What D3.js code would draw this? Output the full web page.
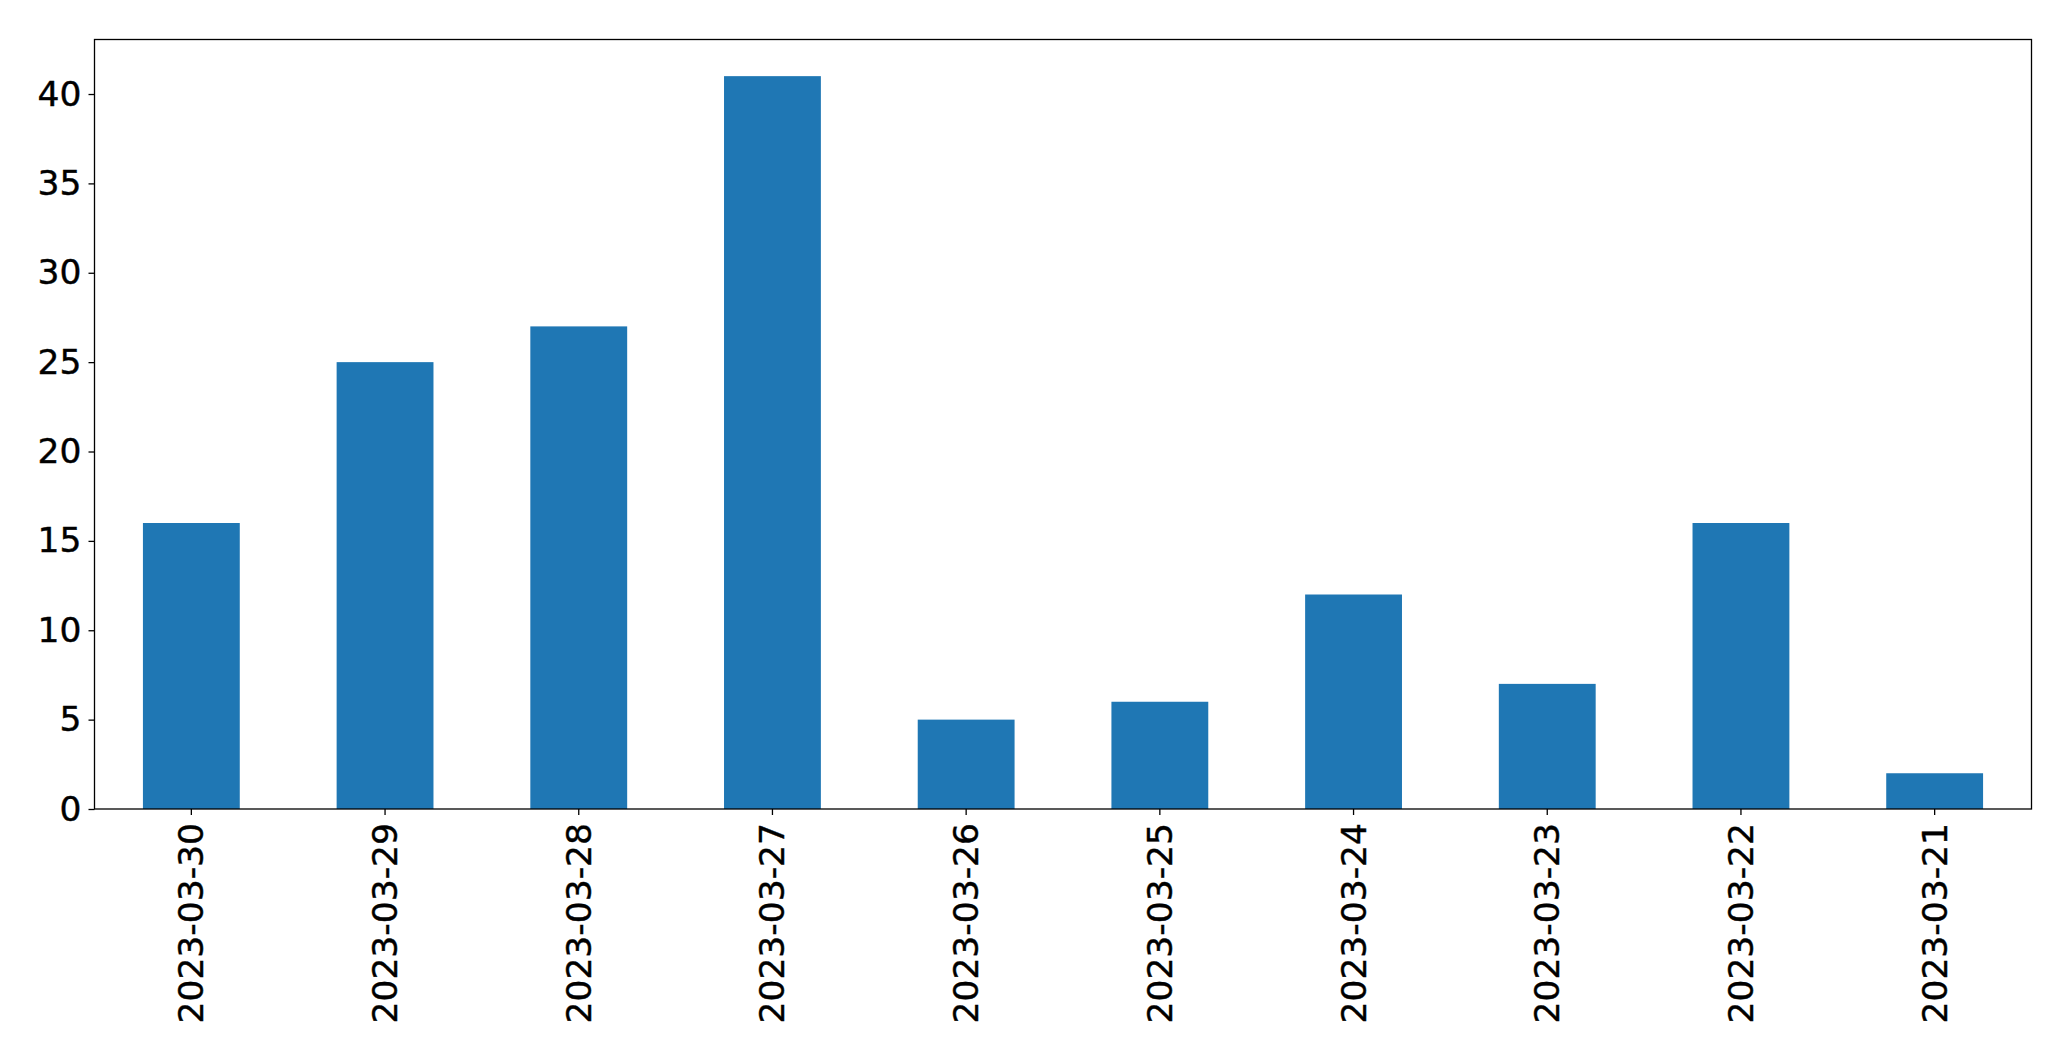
<!DOCTYPE html>
<html>
<head>
<meta charset="utf-8">
<script src="https://cdn.jsdelivr.net/npm/d3@7"></script>
<style>
  html, body { margin: 0; padding: 0; background: #ffffff; }
  svg { display: block; }
</style>
</head>
<body>
<svg id="chart" width="2071" height="1061"></svg>
<script>
const categories = ["2023-03-30","2023-03-29","2023-03-28","2023-03-27","2023-03-26","2023-03-25","2023-03-24","2023-03-23","2023-03-22","2023-03-21"];
const values = [16, 25, 27, 41, 5, 6, 12, 7, 16, 2];
const yTicks = [0, 5, 10, 15, 20, 25, 30, 35, 40];

const W = 2071, H = 1061;
const m = { left: 94.5, right: 2031.5, top: 39.5, bottom: 809 };
const svg = d3.select("#chart");
const font = "'DejaVu Sans', sans-serif";
const fs = 34.5;

const x = d3.scaleBand().domain(categories).range([m.left, m.right]).paddingInner(0.5).paddingOuter(0.25);
const y = d3.scaleLinear().domain([0, d3.max(values) * 1.05]).range([m.bottom, m.top]);

svg.append("g").selectAll("rect").data(values).join("rect")
  .attr("x", (d, i) => x(categories[i]))
  .attr("width", x.bandwidth())
  .attr("y", d => y(d))
  .attr("height", d => y(0) - y(d))
  .attr("fill", "#1f77b4");

// Frame
svg.append("rect")
  .attr("x", m.left).attr("y", m.top)
  .attr("width", m.right - m.left).attr("height", m.bottom - m.top)
  .attr("fill", "none").attr("stroke", "#000").attr("stroke-width", 1.3);

// Y axis
const yAxis = d3.axisLeft(y).tickValues(yTicks).tickSize(6).tickPadding(7).tickFormat(d3.format("d"));
const gy = svg.append("g").attr("transform", `translate(${m.left},0)`).call(yAxis);
gy.select(".domain").remove();
gy.selectAll(".tick line").attr("stroke", "#000").attr("stroke-width", 1.3);
gy.selectAll(".tick text").attr("font-family", font).attr("font-size", fs).attr("fill", "#000")
  .attr("stroke", "#000").attr("stroke-width", 0.4);

// X axis
const xAxis = d3.axisBottom(x).tickSize(6).tickPadding(0);
const gx = svg.append("g").attr("transform", `translate(0,${m.bottom})`).call(xAxis);
gx.select(".domain").remove();
gx.selectAll(".tick line").attr("stroke", "#000").attr("stroke-width", 1.3);
gx.selectAll(".tick text")
  .attr("font-family", font).attr("font-size", fs).attr("fill", "#000")
  .attr("stroke", "#000").attr("stroke-width", 0.4)
  .attr("text-anchor", "end")
  .attr("dy", null)
  .attr("dominant-baseline", "central")
  .attr("transform", "translate(0,14) rotate(-90)")
  .attr("x", 0).attr("y", 0);
</script>
</body>
</html>
